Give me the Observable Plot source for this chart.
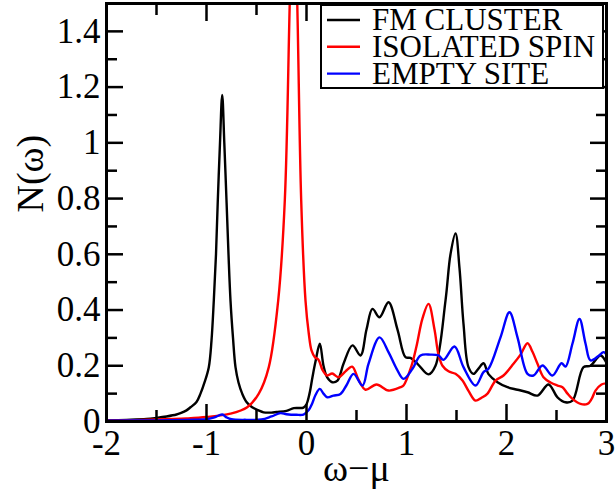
<!DOCTYPE html>
<html>
<head>
<meta charset="utf-8">
<script src="https://cdn.jsdelivr.net/npm/d3@7"></script>
<script src="https://cdn.jsdelivr.net/npm/@observablehq/plot@0.6"></script>
<style>
  html, body { margin: 0; padding: 0; background: #fff; }
  #chart { position: relative; width: 615px; height: 491px; }
</style>
</head>
<body>
<div id="chart"></div>
<script>
// Density of states N(ω) against ω−μ for three kinds of site.
const seriesNames = ["FM CLUSTER", "ISOLATED SPIN", "EMPTY SITE"];
const seriesColors = ["#000000", "#ff0000", "#0000ff"];

// [ω−μ, N(ω)]
const fmCluster = [
  [-2, 0.004], [-1.8, 0.006], [-1.6, 0.009], [-1.5, 0.013], [-1.4, 0.018], [-1.3, 0.025],
  [-1.26, 0.03], [-1.2, 0.04], [-1.16, 0.051], [-1.1, 0.07], [-1.06, 0.1], [-1.02, 0.14],
  [-0.977, 0.195], [-0.95, 0.29], [-0.927, 0.434], [-0.905, 0.6], [-0.887, 0.793], [-0.865, 1.0],
  [-0.843, 1.172], [-0.822, 1.0], [-0.8, 0.793], [-0.78, 0.6], [-0.76, 0.434], [-0.735, 0.3],
  [-0.71, 0.195], [-0.68, 0.14], [-0.643, 0.1], [-0.6, 0.07], [-0.543, 0.051], [-0.48, 0.04],
  [-0.43, 0.033], [-0.35, 0.032], [-0.3, 0.034], [-0.2, 0.038], [-0.127, 0.048], [-0.03, 0.05],
  [0, 0.062], [0.03, 0.1], [0.06, 0.16], [0.09, 0.215], [0.133, 0.279], [0.17, 0.2],
  [0.207, 0.158], [0.257, 0.141], [0.31, 0.147], [0.37, 0.207], [0.46, 0.273], [0.54, 0.237],
  [0.6, 0.33], [0.66, 0.404], [0.73, 0.374], [0.82, 0.428], [0.91, 0.33], [0.99, 0.231],
  [1.04, 0.228], [1.11, 0.207], [1.22, 0.169], [1.29, 0.2], [1.39, 0.434], [1.44, 0.6],
  [1.49, 0.675], [1.53, 0.55], [1.57, 0.35], [1.62, 0.195], [1.67, 0.171], [1.72, 0.19],
  [1.77, 0.209], [1.82, 0.17], [1.91, 0.141], [2.01, 0.123], [2.11, 0.114], [2.21, 0.105],
  [2.31, 0.093], [2.42, 0.133], [2.51, 0.087], [2.59, 0.069], [2.66, 0.075], [2.77, 0.195],
  [2.84, 0.2], [2.94, 0.237], [3.0, 0.21]
];

const isolatedSpin = [
  [-2, 0.003], [-1.5, 0.007], [-1.2, 0.011], [-1.0, 0.016], [-0.76, 0.028], [-0.593, 0.051],
  [-0.477, 0.1], [-0.377, 0.195], [-0.283, 0.434], [-0.217, 0.793], [-0.167, 1.51], [-0.13, 2.0],
  [-0.093, 1.51], [-0.053, 0.793], [-0.01, 0.434], [0.023, 0.315], [0.05, 0.255], [0.085, 0.23],
  [0.12, 0.222], [0.16, 0.185], [0.207, 0.165], [0.257, 0.172], [0.32, 0.159], [0.39, 0.18],
  [0.457, 0.197], [0.52, 0.15], [0.59, 0.114], [0.7, 0.133], [0.82, 0.111], [0.94, 0.123],
  [0.97, 0.129], [1.05, 0.2], [1.1, 0.27], [1.16, 0.37], [1.22, 0.422], [1.28, 0.33],
  [1.32, 0.24], [1.36, 0.2], [1.42, 0.18], [1.49, 0.171], [1.56, 0.147], [1.62, 0.11],
  [1.69, 0.075], [1.75, 0.085], [1.81, 0.1], [1.89, 0.147], [1.97, 0.165], [2.07, 0.207],
  [2.14, 0.24], [2.21, 0.281], [2.26, 0.25], [2.31, 0.207], [2.37, 0.159], [2.44, 0.14],
  [2.51, 0.129], [2.56, 0.123], [2.61, 0.1], [2.66, 0.081], [2.74, 0.063], [2.81, 0.063],
  [2.85, 0.08], [2.89, 0.111], [2.95, 0.133], [3.0, 0.137]
];

const emptySite = [
  [-2, 0.003], [-1.5, 0.004], [-1.2, 0.006], [-1.0, 0.008], [-0.92, 0.015], [-0.843, 0.025],
  [-0.8, 0.015], [-0.75, 0.008], [-0.6, 0.006], [-0.45, 0.007], [-0.35, 0.018], [-0.26, 0.03],
  [-0.2, 0.026], [-0.1, 0.024], [-0.03, 0.025], [0.02, 0.04], [0.057, 0.065], [0.09, 0.095],
  [0.133, 0.117], [0.17, 0.1], [0.207, 0.087], [0.27, 0.093], [0.34, 0.099], [0.4, 0.13],
  [0.47, 0.171], [0.56, 0.129], [0.62, 0.207], [0.73, 0.302], [0.82, 0.249], [0.9, 0.19],
  [0.97, 0.153], [1.06, 0.189], [1.14, 0.237], [1.24, 0.24], [1.32, 0.237], [1.37, 0.221],
  [1.48, 0.269], [1.57, 0.195], [1.69, 0.129], [1.77, 0.177], [1.82, 0.189], [1.94, 0.302],
  [2.03, 0.392], [2.11, 0.302], [2.21, 0.171], [2.27, 0.165], [2.36, 0.201], [2.46, 0.165],
  [2.55, 0.209], [2.59, 0.197], [2.66, 0.28], [2.73, 0.368], [2.79, 0.28], [2.84, 0.219],
  [2.92, 0.235], [2.97, 0.249], [3.0, 0.24]
];

const xMajor = [-2, -1, 0, 1, 2, 3];
const xMinor = [-1.5, -0.5, 0.5, 1.5, 2.5];
const yMajor = [0, 0.2, 0.4, 0.6, 0.8, 1, 1.2, 1.4];
const yMinor = [0.1, 0.3, 0.5, 0.7, 0.9, 1.1, 1.3];

const seriesData = [fmCluster, isolatedSpin, emptySite];

const serif = "Liberation Serif, DejaVu Serif, serif";
const blank = () => "";
const tickStyle = {stroke: "black", strokeWidth: 2.5};

const lines = seriesData.map((data, i) =>
  Plot.line(data, {
    x: d => d[0], y: d => d[1],
    stroke: seriesColors[i], strokeWidth: 2.4,
    curve: "catmull-rom", clip: true
  })
);

const chart = Plot.plot({
  width: 615,
  height: 491,
  marginLeft: 106,
  marginRight: 9,
  marginTop: 3,
  marginBottom: 70,
  style: {fontFamily: serif, fontSize: "35px", color: "black", background: "white"},
  x: {domain: [-2, 3]},
  y: {domain: [0, 1.5]},
  marks: [
    ...lines,
    // inward ticks on all four sides
    Plot.axisX(xMajor, {anchor: "bottom", tickSize: -17, tickFormat: blank, ...tickStyle}),
    Plot.axisX(xMinor, {anchor: "bottom", tickSize: -11, tickFormat: blank, ...tickStyle}),
    Plot.axisX(xMajor, {anchor: "top", tickSize: -17, tickFormat: blank, ...tickStyle}),
    Plot.axisX(xMinor, {anchor: "top", tickSize: -11, tickFormat: blank, ...tickStyle}),
    Plot.axisY(yMajor, {anchor: "left", tickSize: -17, tickFormat: blank, ...tickStyle}),
    Plot.axisY(yMinor, {anchor: "left", tickSize: -11, tickFormat: blank, ...tickStyle}),
    Plot.axisY(yMajor, {anchor: "right", tickSize: -17, tickFormat: blank, ...tickStyle}),
    Plot.axisY(yMinor, {anchor: "right", tickSize: -11, tickFormat: blank, ...tickStyle}),
    // tick labels
    Plot.axisX(xMajor, {anchor: "bottom", tickSize: 0, tickPadding: 9, tickFormat: d => String(d), label: null}),
    Plot.axisY(yMajor, {anchor: "left", tickSize: 0, tickPadding: 6, tickFormat: d => String(d), label: null}),
    Plot.frame({stroke: "black", strokeWidth: 3}),
    // axis titles
    Plot.text(["N(ω)"], {frameAnchor: "left", dx: -64, rotate: -90, lineAnchor: "bottom", fontSize: 38}),
    Plot.text(["ω−μ"], {frameAnchor: "bottom", dy: 59, lineAnchor: "bottom", fontSize: 38})
  ]
});

document.getElementById("chart").appendChild(chart);

// Legend box in the upper right corner, drawn over the ticks
const svg = d3.select(chart);
const legend = svg.append("g");
legend.append("rect")
  .attr("x", 321).attr("y", 5).attr("width", 282).attr("height", 83)
  .attr("fill", "white").attr("stroke", "black").attr("stroke-width", 2);
seriesNames.forEach((name, i) => {
  const cy = 20 + i * 26.8;
  legend.append("line")
    .attr("x1", 327).attr("x2", 360).attr("y1", cy).attr("y2", cy)
    .attr("stroke", seriesColors[i]).attr("stroke-width", 2.4);
  legend.append("text")
    .attr("x", 372).attr("y", cy + 10)
    .attr("text-anchor", "start")
    .style("text-anchor", "start")
    .style("font-family", serif)
    .style("font-size", "31px")
    .attr("fill", "black")
    .text(name);
});
</script>
</body>
</html>
